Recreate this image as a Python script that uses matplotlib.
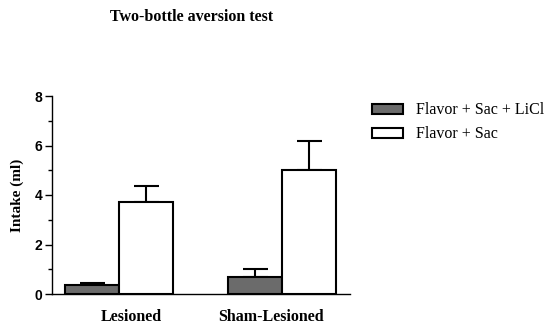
import numpy as np
import matplotlib.pyplot as plt

# data
groups = ["Lesioned", "Sham-Lesioned"]
licl_mean = [0.36, 0.69]
licl_err = [0.08, 0.34]
sac_mean = [3.72, 5.0]
sac_err = [0.66, 1.17]
series_names = ["Flavor + Sac + LiCl", "Flavor + Sac"]

serif = ["Liberation Serif", "DejaVu Serif"]
sans = ["Liberation Sans", "DejaVu Sans"]

fig = plt.figure(figsize=(5.49, 3.27), dpi=100)
ax = fig.add_axes([52 / 549, 1 - 294 / 327, 298 / 549, 198 / 327])

x = np.arange(len(groups))
w = 0.334
b1 = ax.bar(x - w / 2, licl_mean, w, color="#6b6b6b", edgecolor="black",
            linewidth=1.5, label=series_names[0], zorder=2)
b2 = ax.bar(x + w / 2, sac_mean, w, color="white", edgecolor="black",
            linewidth=1.5, label=series_names[1], zorder=2)
ax.errorbar(x - w / 2, licl_mean, yerr=[np.zeros(2), licl_err], fmt="none",
            ecolor="black", elinewidth=1.5, capsize=9, capthick=1.5, zorder=1)
ax.errorbar(x + w / 2, sac_mean, yerr=[np.zeros(2), sac_err], fmt="none",
            ecolor="black", elinewidth=1.5, capsize=9, capthick=1.5, zorder=1)

ax.set_xlim(-0.411, 1.417)
ax.set_ylim(0, 8)
ax.set_yticks([0, 2, 4, 6, 8])
ax.set_yticks([1, 3, 5, 7], minor=True)
# labels in the original sit a bit off the group centres
ax.set_xticks(x + np.array([0.074, -0.067]))
ax.set_xticklabels(groups, fontfamily=serif, fontweight="bold", fontsize=11.5)
for lab in ax.get_yticklabels():
    lab.set_fontfamily(sans)
    lab.set_fontweight("bold")
    lab.set_fontsize(10)
ax.tick_params(axis="x", length=0, pad=11)
ax.tick_params(axis="y", which="major", length=5, width=1, pad=2)
ax.tick_params(axis="y", which="minor", length=3, width=1)
for s in ["top", "right"]:
    ax.spines[s].set_visible(False)
ax.spines["left"].set_linewidth(1)
ax.spines["bottom"].set_linewidth(1)

ax.set_ylabel("Intake (ml)", fontfamily=serif, fontweight="bold", fontsize=11)
ax.yaxis.set_label_coords(-28 / 298, 0.5)
fig.text(192 / 549, 1 - 17 / 327, "Two-bottle aversion test", ha="center", va="center",
         fontfamily=serif, fontweight="bold", fontsize=11.5)

fig.legend(handles=[b1, b2], loc="upper left", bbox_to_anchor=(366 / 549, 1 - 96 / 327),
           frameon=False, prop={"family": serif, "size": 11.5},
           handlelength=1.9, handleheight=0.55, handletextpad=0.8, labelspacing=0.5,
           borderaxespad=0)

fig.savefig("out.png", dpi=100)
